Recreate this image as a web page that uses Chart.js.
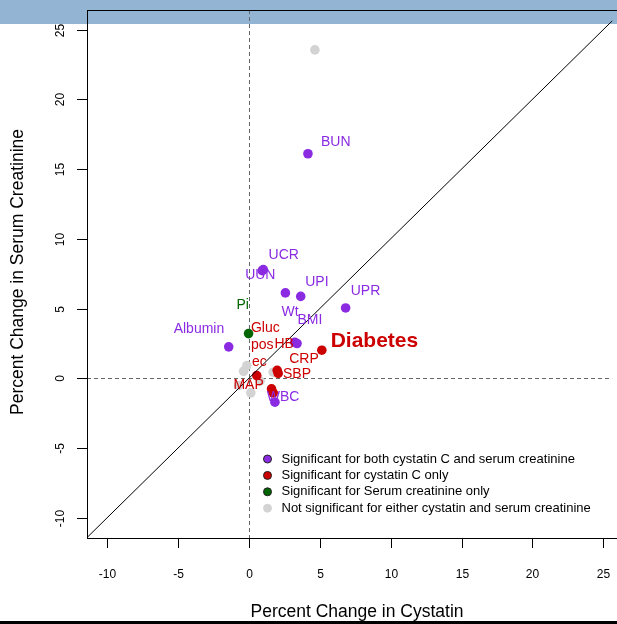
<!DOCTYPE html>
<html>
<head>
<meta charset="UTF-8">
<title>Percent change in cystatin vs serum creatinine</title>
<script src="https://cdn.jsdelivr.net/npm/chart.js"></script>
<style>
  body { margin: 0; background: #fff; width: 617px; height: 624px; overflow: hidden; position: relative; }
  #banner { position: absolute; left: 0; top: 0; width: 617px; height: 24px; background: #93b4d3; }
  #bottomBar { position: absolute; left: 0; top: 621px; width: 617px; height: 3px; background: #000; }
  #chart { position: absolute; left: 0; top: 0; }
</style>
</head>
<body>
<div id="banner"></div>
<div id="bottomBar"></div>
<canvas id="chart" width="617" height="624"></canvas>
<script>
// legend texts, in legend order
const groupNames = [
  'Significant for both cystatin C and serum creatinine',
  'Significant for cystatin C only',
  'Significant for Serum creatinine only',
  'Not significant for either cystatin and serum creatinine'
];

// points (percent change in cystatin, percent change in serum creatinine)
const bothX = [4.16, 1.01, 0.94, 2.57, 3.65, 6.82, 3.39, 3.23, -1.43, 1.83];
const bothY = [16.10, 7.79, 7.71, 6.12, 5.87, 5.04, 2.49, 2.58, 2.25, -1.72];
const cysX = [5.14, 1.99, 2.06, 0.55, 1.59, 1.71];
const cysY = [2.01, 0.57, 0.34, 0.19, -0.76, -1.05];
const scrX = [-0.03];
const scrY = [3.20];
const noneX = [4.65, -0.15, -0.38, 1.71, 0.78, -0.73, 0.13];
const noneY = [23.55, 0.91, 0.50, 0.43, -0.21, -0.52, -1.05];

// variable names written on the plot (group index: 0 both, 1 cystatin, 2 creatinine)
const labelText = ['BUN', 'UCR', 'UUN', 'UPI', 'UPR', 'Wt', 'BMI', 'Albumin', 'WBC',
  'Pi', 'Gluc', 'pos', 'HB', 'ec', 'CRP', 'SBP', 'MAP', 'Diabetes'];
const labelX = [6.12, 2.45, 0.80, 4.79, 8.22, 2.90, 4.30, -3.53, 2.41,
  -0.45, 1.15, 0.94, 2.48, 0.73, 3.88, 3.39, -0.03, 8.85];
const labelY = [16.96, 8.86, 7.36, 6.86, 6.28, 4.71, 4.13, 3.49, -1.38,
  5.21, 3.56, 2.34, 2.42, 1.12, 1.34, 0.27, -0.52, 2.63];
const labelGroup = [0, 0, 0, 0, 0, 0, 0, 0, 0, 2, 1, 1, 1, 1, 1, 1, 1, 1];

const xTicks = [-10, -5, 0, 5, 10, 15, 20, 25];
const yTicks = [-10, -5, 0, 5, 10, 15, 20, 25];
const identityLine = [-20, 40];

const colors = ['#8a2be2', '#cc0000', '#006400', '#d3d3d3'];
const FONT = '"Liberation Sans", Arial, sans-serif';

const pts = (xs, ys) => xs.map((v, i) => ({ x: v, y: ys[i] }));

const overlay = {
  id: 'overlay',
  beforeDatasetsDraw(chart) {
    const { ctx, chartArea: a, scales: { x, y } } = chart;
    ctx.save();
    ctx.strokeStyle = '#666';
    ctx.lineWidth = 1;
    ctx.setLineDash([4, 3]);
    const px = Math.round(x.getPixelForValue(0)) + 0.5;
    const py = Math.round(y.getPixelForValue(0)) + 0.5;
    ctx.beginPath();
    ctx.moveTo(px, a.top); ctx.lineTo(px, a.bottom);
    ctx.moveTo(a.left, py); ctx.lineTo(a.right, py);
    ctx.stroke();
    ctx.restore();
  },
  afterDatasetsDraw(chart) {
    const { ctx, chartArea: a, scales: { x, y } } = chart;
    ctx.save();
    // box
    ctx.strokeStyle = '#000';
    ctx.lineWidth = 1;
    ctx.strokeRect(a.left + 0.5, a.top + 0.5, a.right - a.left + 10, a.bottom - a.top);

    // x axis
    ctx.fillStyle = '#000';
    ctx.font = '12px ' + FONT;
    ctx.textAlign = 'center';
    ctx.textBaseline = 'middle';
    xTicks.forEach(v => {
      const px = Math.round(x.getPixelForValue(v)) + 0.5;
      ctx.beginPath();
      ctx.moveTo(px, a.bottom + 1); ctx.lineTo(px, a.bottom + 10);
      ctx.stroke();
      ctx.fillText(String(v), px, a.bottom + 37);
    });
    // y axis
    yTicks.forEach(v => {
      const py = Math.round(y.getPixelForValue(v)) + 0.5;
      ctx.beginPath();
      ctx.moveTo(a.left - 10, py); ctx.lineTo(a.left, py);
      ctx.stroke();
      ctx.save();
      ctx.translate(a.left - 26, py);
      ctx.rotate(-Math.PI / 2);
      ctx.fillText(String(v), 0, 0);
      ctx.restore();
    });

    // titles
    ctx.font = '17.5px ' + FONT;
    ctx.fillText('Percent Change in Cystatin', 357, 612);
    ctx.save();
    ctx.translate(18, 272);
    ctx.rotate(-Math.PI / 2);
    ctx.fillText('Percent Change in Serum Creatinine', 0, 0);
    ctx.restore();

    // point labels
    labelText.forEach((t, i) => {
      const big = t === 'Diabetes';
      ctx.font = (big ? 'bold 21px ' : '14px ') + FONT;
      ctx.fillStyle = colors[labelGroup[i]];
      ctx.fillText(t, x.getPixelForValue(labelX[i]), y.getPixelForValue(labelY[i]));
    });

    // legend
    ctx.font = '13px ' + FONT;
    ctx.textAlign = 'left';
    groupNames.forEach((name, i) => {
      const cy = 459 + i * 16.4;
      ctx.beginPath();
      ctx.arc(267.5, cy, 4, 0, Math.PI * 2);
      ctx.fillStyle = colors[i];
      ctx.fill();
      ctx.strokeStyle = i === 3 ? '#d3d3d3' : '#222';
      ctx.stroke();
      ctx.fillStyle = '#000';
      ctx.fillText(name, 281.5, cy);
    });
    ctx.restore();
  }
};

new Chart(document.getElementById('chart'), {
  type: 'scatter',
  data: {
    datasets: [
      { type: 'line', data: pts(identityLine, identityLine), borderColor: '#000', borderWidth: 1,
        pointRadius: 0, fill: false },
      { label: groupNames[0], data: pts(bothX, bothY), backgroundColor: colors[0], pointRadius: 4.8, borderWidth: 0 },
      { label: groupNames[1], data: pts(cysX, cysY), backgroundColor: colors[1], pointRadius: 4.8, borderWidth: 0 },
      { label: groupNames[2], data: pts(scrX, scrY), backgroundColor: colors[2], pointRadius: 4.8, borderWidth: 0 },
      { label: groupNames[3], data: pts(noneX, noneY), backgroundColor: colors[3], pointRadius: 4.8, borderWidth: 0 }
    ]
  },
  options: {
    responsive: false,
    animation: false,
    layout: { padding: { left: 87, top: 10, right: 0, bottom: 86 } },
    scales: {
      x: { type: 'linear', min: -11.43, max: 25.63, display: false },
      y: { type: 'linear', min: -11.46, max: 26.41, display: false }
    },
    plugins: { legend: { display: false }, tooltip: { enabled: false } }
  },
  plugins: [overlay]
});
</script>
</body>
</html>
